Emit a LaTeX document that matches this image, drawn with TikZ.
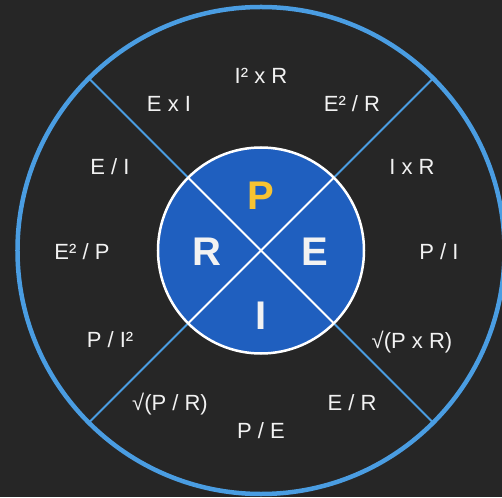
\documentclass[tikz,border=0pt]{standalone}
\usepackage{xcolor}
\usepackage{fontspec}
\setmainfont{Liberation Sans}
\usepackage{tikz}
\usetikzlibrary{positioning}
\definecolor{bgdark}{HTML}{262626}
\definecolor{ringblue}{HTML}{4A9DE2}
\definecolor{wheelblue}{HTML}{1F5FBF}
\definecolor{pyellow}{HTML}{F7C331}
\definecolor{txtwhite}{HTML}{F2F2F2}

\begin{document}
\begin{tikzpicture}[x=1pt, y=1pt,
    every node/.style={font=\fontsize{22}{26}\selectfont, text=txtwhite},
    formula/.style = {anchor=base, inner sep=0pt},
    letter/.style = {anchor=base, inner sep=0pt,
                     font=\fontsize{40}{44}\selectfont\bfseries},
    ring/.style = {circle, inner sep=0pt, outer sep=0pt},
    spoke/.style = {ringblue, line width=2pt},
    cross/.style = {white, line width=2pt}
]

\clip (-261,-246.5) rectangle (241,250.5);
\fill[bgdark] (-261,-246.5) rectangle (241,250.5);

\node (outer) [ring, draw=ringblue, line width=4.5pt, minimum size=487pt] at (0,0) {};

\draw[spoke] (0,0) ++(45:103)  coordinate (c1) -- (outer.45);
\draw[spoke] (0,0) ++(135:103) coordinate (c2) -- (outer.135);
\draw[spoke] (0,0) ++(225:103) coordinate (c3) -- (outer.225);
\draw[spoke] (0,0) ++(315:103) coordinate (c4) -- (outer.315);

\node (inner) [ring, draw=white, fill=wheelblue, line width=2.5pt, minimum size=206pt] at (0,0) {};

\draw[cross] (inner.45) -- (inner.225);
\draw[cross] (inner.135) -- (inner.315);

% letters in the wheel
\node (p) [letter, text=pyellow] at (0,41) {P};
\node (r) [letter] at (-54,-15) {R};
\node (e) [letter] at (54,-15) {E};
\node (i) [letter] at (0,-79) {I};

% formulas round the wheel
\node (n1)  [formula] at (0,166.6)     {I² x R};
\node (n2)  [formula] at (-92,138.6)   {E x I};
\node (n3)  [formula] at (91,138.6)    {E² / R};
\node (n4)  [formula] at (-151,75.6)   {E / I};
\node (n5)  [formula] at (151,75.6)    {I x R};
\node (n6)  [formula] at (-179,-9.4)   {E² / P};
\node (n7)  [formula] at (178,-9.4)    {P / I};
\node (n8)  [formula] at (-151,-97.4)  {P / I²};
\node (n9)  [formula] at (151,-98.4)   {√(P x R)};
\node (n10) [formula] at (-91,-160.4)  {√(P / R)};
\node (n11) [formula] at (91,-160.4)   {E / R};
\node (n12) [formula] at (0,-188.4)    {P / E};

\end{tikzpicture}
\end{document}
